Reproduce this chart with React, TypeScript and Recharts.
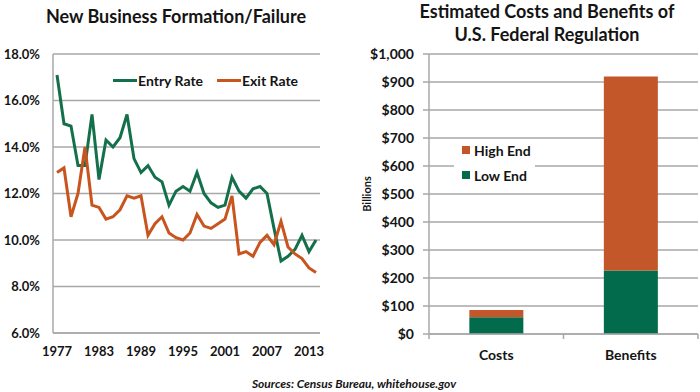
import React from 'react';
import {
  LineChart, Line, BarChart, Bar, XAxis, YAxis, CartesianGrid, Legend,
} from 'recharts';

// ---------- Data ----------
const years = [
  1977, 1978, 1979, 1980, 1981, 1982, 1983, 1984, 1985, 1986,
  1987, 1988, 1989, 1990, 1991, 1992, 1993, 1994, 1995, 1996,
  1997, 1998, 1999, 2000, 2001, 2002, 2003, 2004, 2005, 2006,
  2007, 2008, 2009, 2010, 2011, 2012, 2013, 2014,
];
const entryRate = [
  17.1, 15.0, 14.9, 13.2, 13.2, 15.4, 12.6, 14.3, 14.0, 14.4,
  15.4, 13.5, 12.9, 13.2, 12.7, 12.5, 11.5, 12.1, 12.3, 12.1,
  12.9, 12.0, 11.6, 11.4, 11.5, 12.7, 12.1, 11.8, 12.2, 12.3,
  12.0, 10.5, 9.1, 9.3, 9.6, 10.2, 9.5, 10.0,
];
const exitRate = [
  12.9, 13.1, 11.0, 12.0, 14.0, 11.5, 11.4, 10.9, 11.0, 11.3,
  11.9, 11.8, 11.9, 10.2, 10.7, 11.0, 10.3, 10.1, 10.0, 10.3,
  11.1, 10.6, 10.5, 10.7, 10.9, 11.9, 9.4, 9.5, 9.3, 9.9,
  10.2, 9.8, 10.8, 9.7, 9.4, 9.2, 8.8, 8.6,
];
const yearTicks = [1977, 1983, 1989, 1995, 2001, 2007, 2013];
const rateTicks = [6, 8, 10, 12, 14, 16, 18];
const lineSeriesNames = ['Entry Rate', 'Exit Rate'];

const categories = ['Costs', 'Benefits'];
const lowEnd = [60, 227];
const highEnd = [86, 920];
const dollarTicks = [0, 100, 200, 300, 400, 500, 600, 700, 800, 900, 1000];
const barSeriesNames = ['High End', 'Low End'];

const leftTitle = 'New Business Formation/Failure';
const rightTitle = ['Estimated Costs and Benefits of', 'U.S. Federal Regulation'];
const sourceText = 'Sources: Census Bureau, whitehouse.gov';

// ---------- Styles ----------
const FONT = "Lato, 'Open Sans', sans-serif";
const GREEN = '#13704A';
const ORANGE = '#C8541E';
const BAR_GREEN = '#016B4C';
const BAR_ORANGE = '#C3572A';
const GRID = '#A8A8A8';
const TEXT = '#141414';

const lineData = years.map((y, i) => ({ year: y, entry: entryRate[i], exit: exitRate[i] }));
const barData = categories.map((c, i) => ({ name: c, low: lowEnd[i], high: highEnd[i] - lowEnd[i] }));

const LineLegend = () => (
  <div style={{ position: 'relative', width: 200, height: 18, fontFamily: FONT, fontWeight: 700, fontSize: 14, color: TEXT }}>
    {lineSeriesNames.map((n, i) => (
      <div key={n} style={{ position: 'absolute', left: i * 104, top: 0, display: 'flex', alignItems: 'center', height: 18, whiteSpace: 'nowrap' }}>
        <span style={{ display: 'inline-block', width: 24, height: 3, background: i === 0 ? GREEN : ORANGE, marginRight: 1 }} />
        <span>{n}</span>
      </div>
    ))}
  </div>
);

const BarLegend = () => (
  <div style={{ width: 81, height: 52, background: '#fff', fontFamily: FONT, fontWeight: 700, fontSize: 14, color: TEXT, position: 'relative' }}>
    {barSeriesNames.map((n, i) => (
      <div key={n} style={{ position: 'absolute', left: 8, top: 1 + i * 25, height: 18, display: 'flex', alignItems: 'center', whiteSpace: 'nowrap' }}>
        <span style={{ display: 'inline-block', width: 8, height: 8, background: i === 0 ? BAR_ORANGE : BAR_GREEN, marginRight: 4 }} />
        <span>{n}</span>
      </div>
    ))}
  </div>
);

const CategoryTick = (props: any) => {
  const { x, y, payload, index, visibleTicksCount } = props;
  const half = payload && typeof payload.offset === 'number' ? payload.offset : 0;
  return (
    <g>
      <line x1={x - half} x2={x - half} y1={y} y2={y + 5} stroke={GRID} strokeWidth={1.5} />
      {index === visibleTicksCount - 1 && (
        <line x1={x + half} x2={x + half} y1={y} y2={y + 5} stroke={GRID} strokeWidth={1.5} />
      )}
      <text x={x} y={y + 20} textAnchor="middle" dominantBaseline="central"
        style={{ fontFamily: FONT, fontWeight: 700, fontSize: 14, fill: TEXT }}>
        {payload.value}
      </text>
    </g>
  );
};

const BillionsLabel = (props: any) => {
  const vb = props.viewBox || { x: 0, y: 54, width: 79, height: 280 };
  const cx = 16;
  const cy = vb.y + vb.height / 2;
  return (
    <text x={cx} y={cy} transform={`rotate(-90, ${cx}, ${cy})`} textAnchor="middle" dominantBaseline="central"
      style={{ fontFamily: FONT, fontWeight: 700, fontSize: 11, fill: TEXT }}>
      Billions
    </text>
  );
};

export default function App() {
  return (
    <div style={{ position: 'absolute', left: 0, top: 0, width: 700, height: 392, background: '#fff', fontFamily: FONT, overflow: 'hidden' }}>
      <div style={{ position: 'absolute', left: 0, top: 6, width: 352, textAlign: 'center', fontSize: 18, lineHeight: '20px', fontWeight: 700, color: TEXT }}>
        {leftTitle}
      </div>
      <div style={{ position: 'absolute', left: 400, top: 0, width: 294, textAlign: 'center', fontSize: 18, lineHeight: '23px', fontWeight: 700, color: TEXT }}>
        {rightTitle.map((t) => <div key={t}>{t}</div>)}
      </div>

      <div style={{ position: 'absolute', left: 0, top: 0 }}>
        <LineChart width={340} height={370} data={lineData} margin={{ top: 54, right: 20, bottom: 7, left: 0 }}>
          <CartesianGrid vertical={false} stroke={GRID} strokeWidth={1.5} />
          <XAxis dataKey="year" type="number" domain={[1977, 2014]} ticks={yearTicks} interval={0}
            padding={{ left: 4, right: 4 }} height={30} tickLine={false} tickSize={0} tickMargin={14}
            axisLine={{ stroke: GRID, strokeWidth: 1.5 }}
            tick={{ fontFamily: FONT, fontWeight: 700, fontSize: 13, fill: TEXT }} />
          <YAxis type="number" domain={[6, 18]} ticks={rateTicks} interval={0} width={53}
            tickLine={false} tickSize={0} tickMargin={13} axisLine={{ stroke: GRID, strokeWidth: 1.5 }}
            tickFormatter={(v: number) => `${v.toFixed(1)}%`}
            tick={{ fontFamily: FONT, fontWeight: 700, fontSize: 13, fill: TEXT }} />
          <Legend layout="horizontal" verticalAlign="middle" align="center" content={<LineLegend />}
            wrapperStyle={{ left: 113, top: 71, width: 200, height: 18 }} />
          <Line type="linear" dataKey="entry" name={lineSeriesNames[0]} stroke={GREEN} strokeWidth={3} dot={false} isAnimationActive={false} />
          <Line type="linear" dataKey="exit" name={lineSeriesNames[1]} stroke={ORANGE} strokeWidth={3} dot={false} isAnimationActive={false} />
        </LineChart>
      </div>

      <div style={{ position: 'absolute', left: 350, top: 0 }}>
        <BarChart width={350} height={370} data={barData} margin={{ top: 54, right: 2, bottom: 6, left: 0 }} barCategoryGap="30%">
          <CartesianGrid vertical={false} stroke={GRID} strokeWidth={1.5} />
          <XAxis dataKey="name" type="category" height={30} tickLine={false} tickSize={0} tickMargin={0}
            axisLine={{ stroke: GRID, strokeWidth: 1.5 }} tick={<CategoryTick />} interval={0} />
          <YAxis type="number" domain={[0, 1000]} ticks={dollarTicks} interval={0} width={79}
            tickSize={6} tickMargin={9} tickLine={{ stroke: GRID, strokeWidth: 1.5 }}
            axisLine={{ stroke: GRID, strokeWidth: 1.5 }}
            tickFormatter={(v: number) => `$${v.toLocaleString('en-US')}`}
            tick={{ fontFamily: FONT, fontWeight: 700, fontSize: 14, fill: TEXT }}
            label={<BillionsLabel />} />
          <Legend layout="horizontal" verticalAlign="middle" align="center" content={<BarLegend />}
            wrapperStyle={{ left: 104, top: 140, width: 81, height: 52 }} />
          <Bar dataKey="low" stackId="a" name={barSeriesNames[1]} fill={BAR_GREEN} isAnimationActive={false} />
          <Bar dataKey="high" stackId="a" name={barSeriesNames[0]} fill={BAR_ORANGE} isAnimationActive={false} />
        </BarChart>
      </div>

      <div style={{ position: 'absolute', left: 154, top: 376, width: 400, textAlign: 'center', fontSize: 12, lineHeight: '16px', fontWeight: 700, fontStyle: 'italic', color: TEXT }}>
        {sourceText}
      </div>
    </div>
  );
}
